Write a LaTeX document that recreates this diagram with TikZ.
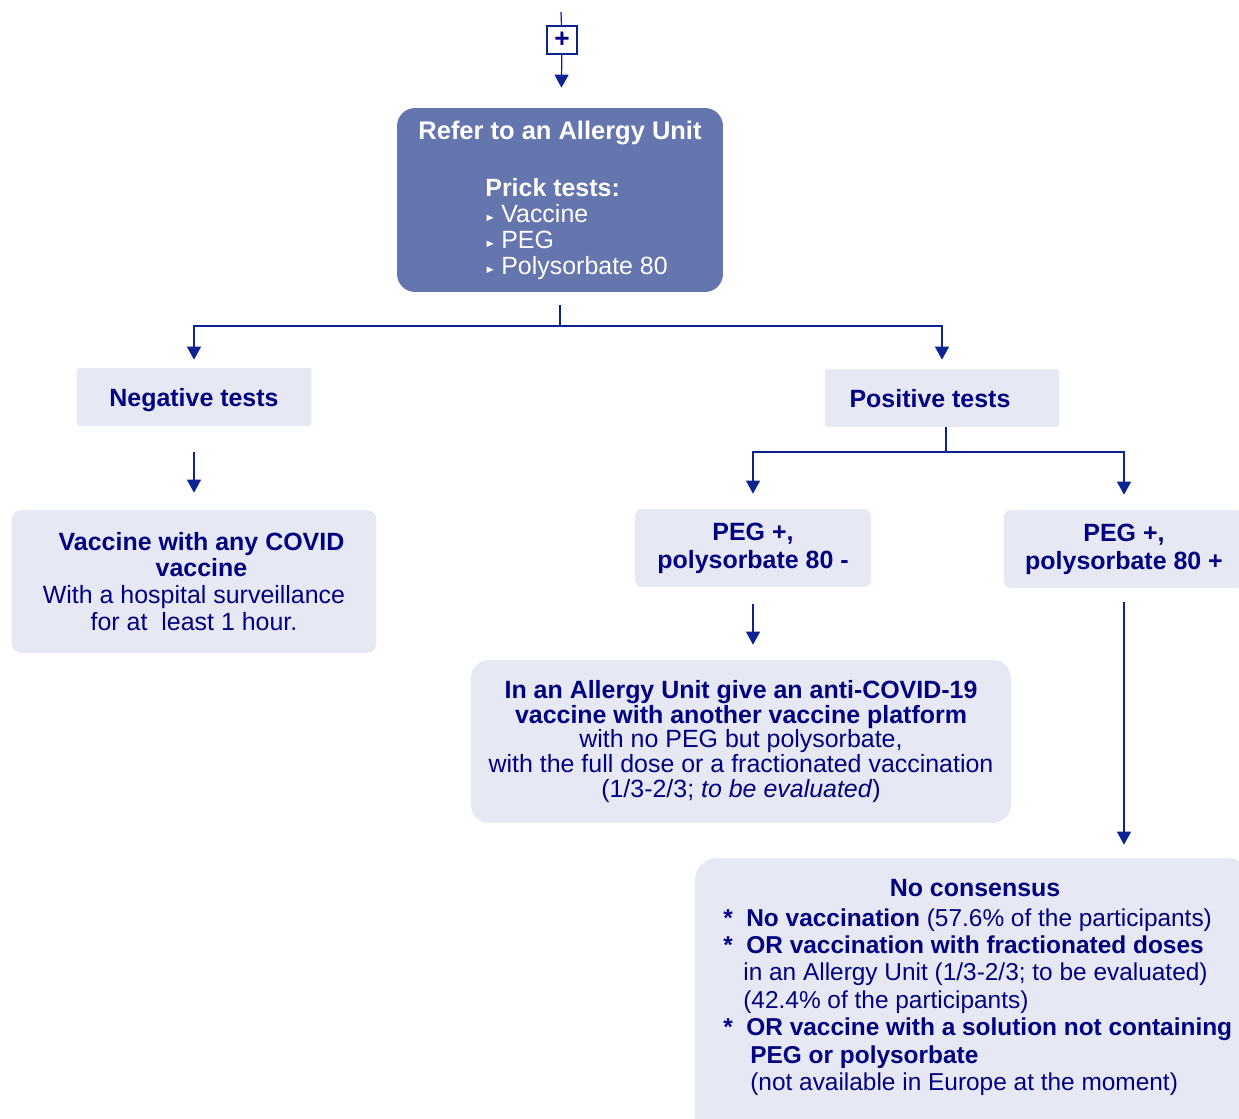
\documentclass[tikz,border=0pt]{standalone}
\usepackage{fontspec}
\setmainfont{Liberation Sans}
\usepackage{amssymb}
\usetikzlibrary{positioning,arrows.meta,calc}

\definecolor{navy}{HTML}{000080}
\definecolor{linenavy}{HTML}{0D2391}
\definecolor{topblue}{HTML}{6575AE}
\definecolor{paleblue}{HTML}{E6E8F4}

\newcommand{\tribul}{\makebox[0.32cm][l]{\tiny\raisebox{0.5ex}{$\blacktriangleright$}}}
\newcommand{\starmark}{\makebox[0.46cm][l]{\textbf{*}}}

\begin{document}
\begin{tikzpicture}[x=0.02cm,y=-0.02cm,
  every node/.style={font=\fontsize{14.2}{14.8}\selectfont},
  darkbox/.style={fill=topblue,rounded corners=0.36cm,inner sep=0pt},
  palebox/.style={fill=paleblue,text=navy,align=center,inner sep=0pt,font=\fontsize{14.2}{15.3}\selectfont},
  plusbox/.style={draw=linenavy,fill=white,line width=0.6pt,minimum width=0.6cm,minimum height=0.56cm,inner sep=0pt,text=navy},
  conn/.style={draw=linenavy,line width=0.7pt},
  arr/.style={conn,-{Triangle[width=0.28cm,length=0.26cm]}}]
  \useasboundingbox (0,0) rectangle (1239,1118);
  \clip (0,0) rectangle (1239,1118);

  % top of the chart
  \coordinate (topin) at (561,12);
  \node[plusbox] (plus) at (562,40) {\fontsize{15}{15}\selectfont\bfseries +};
  \node[darkbox,minimum width=6.52cm,minimum height=3.68cm] (refer) at (560,200) {};
  \node[text=white,font=\fontsize{14.5}{14.8}\selectfont\bfseries] (refertitle) at (560,133) {Refer to an Allergy Unit};
  \node[text=white,anchor=north west,align=left,inner sep=0pt,font=\fontsize{14.2}{14.8}\selectfont] (prick) at (485,178)
    {\textbf{Prick tests:}\\ \tribul Vaccine\\ \tribul PEG\\ \tribul Polysorbate 80};

  % test results
  \node[palebox,text depth=0pt,rounded corners=0.06cm,minimum width=4.7cm,minimum height=1.16cm] (negative) at (194,397) {\bfseries Negative tests};
  \node[palebox,text depth=0pt,rounded corners=0.06cm,minimum width=4.68cm,minimum height=1.16cm] (positive) at (942,398) {\bfseries Positive tests\hspace*{0.48cm}};

  \node[palebox,rounded corners=0.2cm,minimum width=7.3cm,minimum height=2.86cm] (vaccine) at (194,581.5)
    {\bfseries\hspace*{0.3cm}Vaccine with any COVID\\ \bfseries\hspace*{0.3cm}vaccine\\ With a hospital surveillance\\ for at~ least 1 hour.};
  \node[palebox,rounded corners=0.14cm,minimum width=4.72cm,minimum height=1.56cm,font=\fontsize{14.2}{16}\selectfont\bfseries] (pegneg) at (753,548)
    {PEG +,\\ polysorbate 80 -};
  \node[palebox,rounded corners=0.14cm,minimum width=4.8cm,minimum height=1.56cm,font=\fontsize{14.2}{16}\selectfont\bfseries] (pegpos) at (1124,549)
    {PEG +,\\ polysorbate 80 +};

  \node[palebox,rounded corners=0.36cm,minimum width=10.8cm,minimum height=3.26cm,font=\fontsize{14.2}{14.2}\selectfont] (allergy) at (741,741.5)
    {\bfseries In an Allergy Unit give an anti-COVID-19\\ \bfseries vaccine with another vaccine platform\\ with no PEG but polysorbate,\\ with the full dose or a fractionated vaccination\\ (1/3-2/3; \textit{to be evaluated})};

  \node[palebox,rounded corners=0.44cm,minimum width=11.1cm,minimum height=5.64cm] (nocons) at (972.5,999) {};
  \node[text=navy,font=\fontsize{14.2}{14.8}\selectfont\bfseries] (noconstitle) at (975,888) {No consensus};
  \node[text=navy,anchor=north west,align=left,inner sep=0pt,font=\fontsize{13.9}{15.6}\selectfont] (noconslist) at (723,908)
    {\starmark\textbf{No vaccination} (57.6\% of the participants)\\
     \starmark\textbf{OR vaccination with fractionated doses}\\
     \hspace*{0.4cm}in an Allergy Unit (1/3-2/3; to be evaluated)\\
     \hspace*{0.4cm}(42.4\% of the participants)\\
     \starmark\textbf{OR vaccine with a solution not containing}\\
     \hspace*{0.54cm}\textbf{PEG or polysorbate}\\
     \hspace*{0.54cm}(not available in Europe at the moment)};

  % connectors
  \coordinate (split1) at (560,326);
  \coordinate (split2) at (946,452);
  \draw[conn] (topin) -- (plus);
  \draw[arr,shorten >=0.4cm] (plus) -- (refer);
  \draw[conn,shorten <=0.26cm] (refer) -- (split1);
  \draw[arr,shorten >=0.16cm] (split1) -| (negative);
  \draw[arr,shorten >=0.18cm] (split1) -| (positive);
  \draw[conn] (split2 |- positive.south) -- (split2);
  \draw[arr,shorten >=0.3cm] (split2) -| (pegneg);
  \draw[arr,shorten >=0.3cm] (split2) -| (pegpos);
  \draw[arr,shorten <=0.52cm,shorten >=0.34cm] (negative) -- (vaccine);
  \draw[arr,shorten <=0.34cm,shorten >=0.3cm] (pegneg) -- (pegneg |- allergy.north);
  \draw[arr,shorten <=0.28cm,shorten >=0.26cm] (pegpos) -- (pegpos |- nocons.north);
\end{tikzpicture}
\end{document}
